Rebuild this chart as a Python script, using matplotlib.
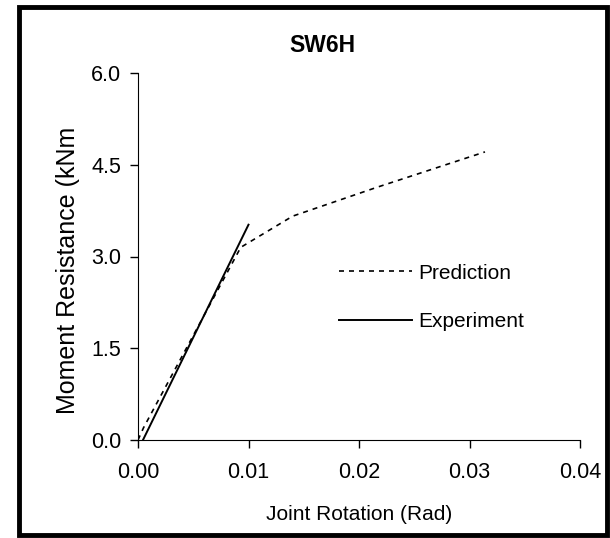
import matplotlib.pyplot as plt
from matplotlib.patches import Rectangle

plt.rcParams['font.family'] = ['Liberation Sans', 'DejaVu Sans']

# data
pred_x = [0.0, 0.0005, 0.0093, 0.0140, 0.0216, 0.0314]
pred_y = [0.0, 0.20, 3.15, 3.66, 4.13, 4.71]
exp_x = [0.00045, 0.0100]
exp_y = [0.0, 3.52]

x_ticks = [0.00, 0.01, 0.02, 0.03, 0.04]
y_ticks = [0.0, 1.5, 3.0, 4.5, 6.0]

fig = plt.figure(figsize=(6.1, 5.38), dpi=100)
ax = fig.add_axes([138/610, 1-440/538, (580-138)/610, (440-73)/538])

ax.plot(pred_x, pred_y, color='black', linestyle=(0, (3, 3)), linewidth=1.2, label='Prediction')
ax.plot(exp_x, exp_y, color='black', linestyle='-', linewidth=1.4, label='Experiment')

ax.set_xlim(0, 0.04)
ax.set_ylim(0, 6.0)
ax.set_xticks(x_ticks)
ax.set_xticklabels(['%.2f' % v for v in x_ticks])
ax.set_yticks(y_ticks)
ax.set_yticklabels(['%.1f' % v for v in y_ticks])
ax.tick_params(labelsize=15.5, length=6, width=1, pad=10)
ax.tick_params(axis='y', pad=6)
ax.spines['top'].set_visible(False)
ax.spines['right'].set_visible(False)

ax.set_xlabel('Joint Rotation (Rad)', fontsize=15, labelpad=16)
fig.text(68/610, 1-270/538, 'Moment Resistance (kNm', rotation=90, fontsize=18,
         ha='center', va='center')
fig.text(322/610, 1-45/538, 'SW6H', fontsize=16.5, fontweight='bold', ha='center', va='center')

ax.legend(loc='upper left', bbox_to_anchor=((320-138)/442, (440-245)/367), frameon=False,
          fontsize=15, handlelength=3.5, handletextpad=0.3, labelspacing=1.4)

# outer border
fig.patches.append(Rectangle((19/610, 3/538), 588/610, 528/538, transform=fig.transFigure,
                             fill=False, edgecolor='black', linewidth=3.5))

plt.savefig('out.png', dpi=100)
